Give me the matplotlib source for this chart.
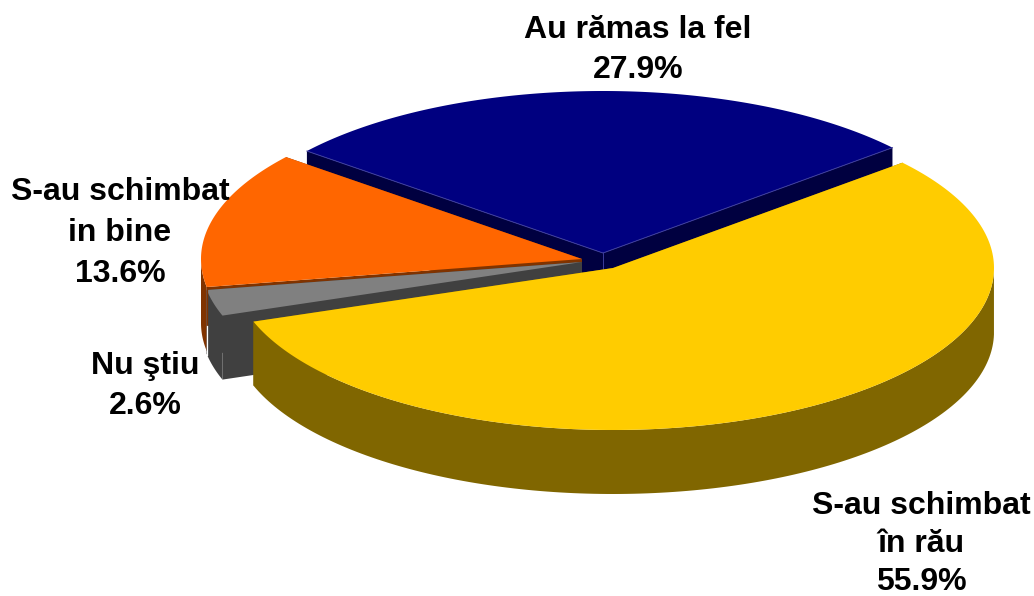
import numpy as np
import matplotlib
matplotlib.use('Agg')
import matplotlib.pyplot as plt

plt.rcParams['font.family'] = ['Liberation Sans', 'DejaVu Sans']

# slices, clockwise from the left end of the blue one
categories = ['Au rămas la fel', 'S-au schimbat\nîn rău', 'Nu ştiu', 'S-au schimbat\nin bine']
values = [27.9, 55.9, 2.6, 13.6]
colors = ['#000080', '#ffcc00', '#808080', '#ff6600']
walls = ['#000040', '#806600', '#404040', '#803300']

# pie geometry in pixels
start_angle = 141.0
rx, ry = 381, 162
depth = 64
centers = {0: (603, 253), 1: (613, 268), 2: (582, 262), 3: (582, 259)}
label_pos = {0: (638, 50), 1: (921, 544), 2: (145, 386), 3: (120, 233)}
# the bottom label sits right on the edge of the picture, so it is a bit tighter
label_spacing = {0: 1.46, 1: 1.36, 2: 1.46, 3: 1.46}

fig = plt.figure(figsize=(10.34, 5.96), dpi=100)
ax = fig.add_axes([0, 0, 1, 1])
ax.set_xlim(0, 1034)
ax.set_ylim(596, 0)
ax.axis('off')


def arc(cx, cy, a0, a1):
    t = np.radians(np.linspace(a0, a1, 200))
    return cx + rx * np.cos(t), cy - ry * np.sin(t)


# work out the angles from the values
total = sum(values)
angles = {}
a = start_angle
for i, v in enumerate(values):
    angles[i] = (a, a - v / total * 360)
    a = angles[i][1]

# back slices first, yellow goes on top of everything
for z, i in enumerate([0, 3, 2, 1]):
    z = z + 1
    cx, cy = centers[i]
    a0, a1 = angles[i]
    x, y = arc(cx, cy, a0, a1)

    # cut faces
    for ex, ey in [(x[0], y[0]), (x[-1], y[-1])]:
        ax.fill([cx, ex, ex, cx], [cy, ey, ey + depth, cy + depth], color=walls[i], lw=0, zorder=z)

    # outer wall, only the part facing the viewer
    front = np.sin(np.radians(np.linspace(a0, a1, 200))) <= 0.001
    if front.any():
        fx, fy = x[front], y[front]
        ax.fill(np.r_[fx, fx[::-1]], np.r_[fy, fy[::-1] + depth], color=walls[i], lw=0, zorder=z)

    ax.fill(np.r_[cx, x], np.r_[cy, y], color=colors[i], lw=0, zorder=z + 0.5)

# seams seen on the blue slice and at the end of the grey one
cx, cy = centers[0]
x, y = arc(cx, cy, *angles[0])
ax.plot([x[0], cx, x[-1]], [y[0], cy, y[-1]], color='#3c3c9c', lw=0.7, zorder=1.6)
ax.plot([cx, cx], [cy, cy + depth], color='#3c3c9c', lw=0.7, zorder=1.6)
cx, cy = centers[2]
x, y = arc(cx, cy, *angles[2])
ax.plot([x[-1], x[-1]], [y[-1], y[-1] + 36], color='#803300', lw=0.9, zorder=3.6)
ax.plot([x[-1], x[-1]], [y[-1] + 36, y[-1] + depth + 1], color='white', lw=0.9, zorder=3.6)

for i in range(len(values)):
    ax.text(label_pos[i][0], label_pos[i][1], '%s\n%.1f%%' % (categories[i], values[i]),
            ha='center', va='center', fontsize=23, fontweight='bold', color='black',
            linespacing=label_spacing[i], zorder=10)

fig.savefig('out.png', dpi=100)
